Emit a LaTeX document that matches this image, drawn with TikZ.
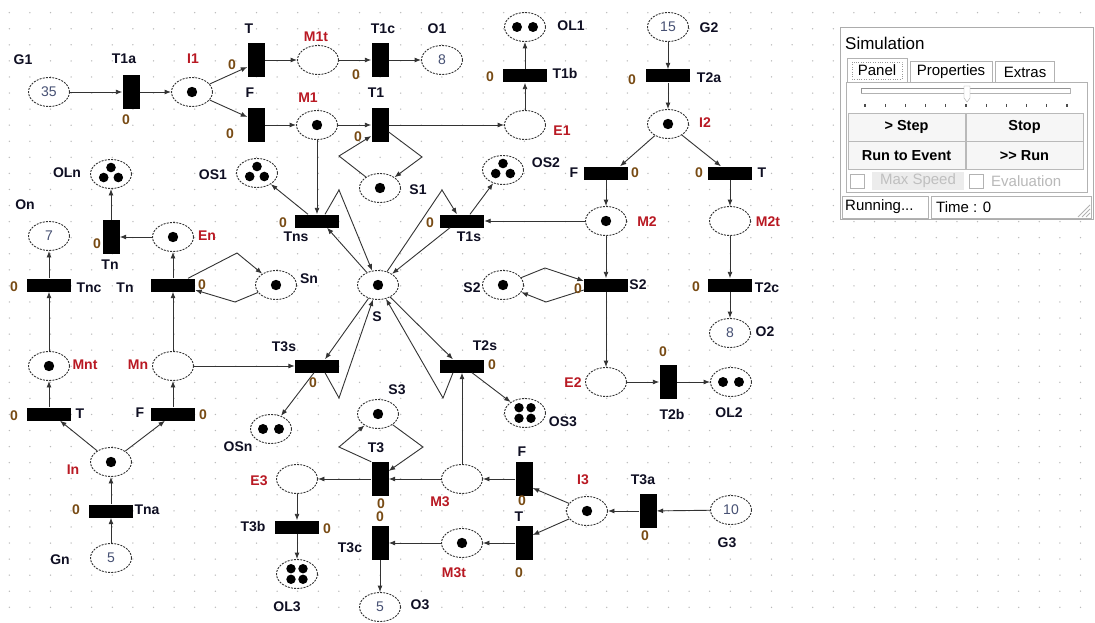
\documentclass[tikz,border=0pt]{standalone}
\usepackage{fontspec}
\setmainfont{Liberation Sans}
\usetikzlibrary{shapes.geometric,arrows.meta,calc}
\definecolor{zerocol}{RGB}{120,75,20}
\definecolor{plred}{RGB}{185,25,35}
\definecolor{numcol}{RGB}{70,80,115}
\definecolor{lblcol}{RGB}{15,15,35}
\tikzset{
  place/.style={ellipse, draw=black!80, dash pattern=on 2pt off 1.2pt, line width=0.9pt,
    minimum width=41pt, minimum height=29pt, inner sep=0pt, fill=white,
    font=\fontsize{14pt}{14pt}\selectfont, text=numcol},
  vtr/.style={rectangle, fill=black, inner sep=0pt, minimum width=17pt, minimum height=34pt},
  htr/.style={rectangle, fill=black, inner sep=0pt, minimum width=44pt, minimum height=13pt},
  lbl/.style={font=\bfseries\fontsize{14pt}{14pt}\selectfont, inner sep=0pt, text=lblcol},
  arc/.style={line width=0.9pt, draw=black!80, -{Latex[length=6.5pt,width=5pt]}},
  pf/.style={font=\fontsize{15pt}{15pt}\selectfont},
  btn/.style={draw=gray!55, fill=gray!7, minimum width=117pt, minimum height=28pt, inner sep=0pt,
    font=\bfseries\fontsize{14.5pt}{15pt}\selectfont},
  tabst/.style={draw=gray!60, fill=white, inner sep=0pt, font=\fontsize{15pt}{15pt}\selectfont}
}
\newcommand{\Lk}[3]{\node[lbl] (#1) at (#2) {#3};}
\newcommand{\Lr}[3]{\node[lbl,text=plred] (#1) at (#2) {#3};}
\newcommand{\Lz}[2]{\node[lbl,text=zerocol] (#1) at (#2) {0};}
\newcommand{\tkA}[1]{\fill (#1.center) circle[radius=5.2pt];}
\newcommand{\tkB}[1]{\fill ([xshift=-8pt]#1.center) circle[radius=5pt];\fill ([xshift=8pt]#1.center) circle[radius=5pt];}
\newcommand{\tkC}[1]{\fill ([yshift=6.5pt]#1.center) circle[radius=4.8pt];\fill ([xshift=-7.3pt,yshift=-3.5pt]#1.center) circle[radius=4.8pt];\fill ([xshift=7.3pt,yshift=-3.5pt]#1.center) circle[radius=4.8pt];}
\newcommand{\tkD}[1]{\fill ([xshift=-6pt,yshift=5.3pt]#1.center) circle[radius=4.7pt];\fill ([xshift=6pt,yshift=5.3pt]#1.center) circle[radius=4.7pt];\fill ([xshift=-6pt,yshift=-5.3pt]#1.center) circle[radius=4.7pt];\fill ([xshift=6pt,yshift=-5.3pt]#1.center) circle[radius=4.7pt];}
\begin{document}
\begin{tikzpicture}[x=1pt,y=-1pt]
\useasboundingbox (0,0) rectangle (1095,623);
\fill[white] (0,0) rectangle (1095,623);
\foreach \i in {0,...,52}{\foreach \j in {0,...,37}{\fill[gray!55] (9.3+20.6*\i,12.7+16.07*\j) circle[radius=0.75pt];}}

% ---------------- places
\node[place] (G1) at (49,92) {35};
\node[place] (I1) at (192,92) {};
\node[place] (M1t) at (318,60) {};
\node[place] (O1) at (442,60) {8};
\node[place] (M1) at (317,125) {};
\node[place] (E1) at (525,125) {};
\node[place] (OL1) at (525,27) {};
\node[place] (S1) at (380,188) {};
\node[place] (OS1) at (257,173) {};
\node[place] (OS2) at (503,170) {};
\node[place] (OLn) at (111,174) {};
\node[place] (G2) at (668,27) {15};
\node[place] (I2) at (668,124) {};
\node[place] (M2) at (606,221) {};
\node[place] (M2t) at (730,221) {};
\node[place] (S2) at (503,285) {};
\node[place] (E2) at (606,382) {};
\node[place] (O2) at (730,333) {8};
\node[place] (OL2) at (731,382) {};
\node[place] (S) at (378,285) {};
\node[place] (P7) at (49,236) {7};
\node[place] (En) at (173,237) {};
\node[place] (Sn) at (276,285) {};
\node[place] (Mnt) at (49,366) {};
\node[place] (Mn) at (173,366) {};
\node[place] (In) at (111,462) {};
\node[place] (Gn) at (111,558) {5};
\node[place] (OSn) at (271,429) {};
\node[place] (OS3) at (525,413) {};
\node[place] (S3) at (378,414) {};
\node[place] (E3) at (297,479) {};
\node[place] (M3) at (462,479) {};
\node[place] (M3t) at (462,543) {};
\node[place] (OL3) at (297,574) {};
\node[place] (O3) at (380,607) {5};
\node[place] (I3) at (587,511) {};
\node[place] (G3) at (731,510) {10};

% tokens
\tkA{I1}\tkA{M1}\tkA{S1}\tkA{I2}\tkA{M2}\tkA{S2}\tkA{S}\tkA{En}\tkA{Sn}\tkA{Mnt}\tkA{In}\tkA{S3}\tkA{M3t}\tkA{I3}
\tkB{OL1}\tkB{OL2}\tkB{OSn}
\tkC{OS1}\tkC{OS2}\tkC{OLn}
\tkD{OS3}\tkD{OL3}

% ---------------- transitions
\node[vtr] (T1a) at (131,92) {};
\node[vtr] (Tt1) at (256,60) {};
\node[vtr] (Tf1) at (256,125) {};
\node[vtr] (T1c) at (380,60) {};
\node[vtr] (T1) at (380,125) {};
\node[htr] (T1b) at (525,76) {};
\node[htr] (T2a) at (668,76) {};
\node[htr] (Tf2) at (606,173) {};
\node[htr] (Tt2) at (730,173) {};
\node[htr] (TS2) at (606,285) {};
\node[htr] (T2c) at (730,285) {};
\node[vtr] (T2b) at (668,382) {};
\node[htr] (T1s) at (462,221) {};
\node[htr] (Tns) at (317,221) {};
\node[htr] (T3s) at (317,366) {};
\node[htr] (T2s) at (462,366) {};
\node[vtr] (Tn) at (111,237) {};
\node[htr] (Tnc) at (49,285) {};
\node[htr] (Tnh) at (173,285) {};
\node[htr] (Tt3) at (49,414) {};
\node[htr] (Tf3) at (173,414) {};
\node[htr] (Tna) at (111,511) {};
\node[vtr] (T3) at (380,479) {};
\node[vtr] (T3c) at (380,543) {};
\node[htr] (T3b) at (297,527) {};
\node[vtr] (Tf4) at (524,479) {};
\node[vtr] (Tt4) at (524,543) {};
\node[vtr] (T3a) at (648,511) {};

% ---------------- arcs
\draw[arc] (G1) -- (T1a);
\draw[arc] (T1a) -- (I1);
\draw[arc] (I1) -- ([yshift=-7pt]Tt1.west);
\draw[arc] (I1) -- ([yshift=8pt]Tf1.west);
\draw[arc] (Tt1) -- (M1t);
\draw[arc] (M1t) -- (T1c);
\draw[arc] (T1c) -- (O1);
\draw[arc] (Tf1) -- (M1);
\draw[arc] (M1) -- (T1);
\draw[arc] (T1) -- (E1);
\draw[arc] (E1) -- (T1b);
\draw[arc] (T1b) -- (OL1);
\draw[arc] (S1) -- (339,156) -- ([yshift=-11pt]T1.west);
\draw[arc] ([yshift=-7pt]T1.east) -- (422,157) -- (S1);
\draw[arc] (M1) -- (Tns);
\draw[arc] ([xshift=-9pt]Tns.north) -- (OS1);
\draw[arc] ([xshift=8pt]Tns.north) -- (339,190) -- (S);
\draw[arc] (S) -- ([xshift=10pt]Tns.south);
\draw[arc] (S) -- (442,190) -- ([xshift=-5pt]T1s.north);
\draw[arc] ([xshift=-12pt]T1s.south) -- (S);
\draw[arc] ([xshift=8pt]T1s.north) -- (OS2);
\draw[arc] (M2) -- (T1s);
\draw[arc] (S) -- ([xshift=8pt]T3s.north);
\draw[arc] ([xshift=8pt]T3s.south) -- (339,398) -- (S);
\draw[arc] ([xshift=-3pt]T3s.south) -- (OSn);
\draw[arc] (S) -- ([xshift=-9pt]T2s.north);
\draw[arc] ([xshift=-9pt]T2s.south) -- (443,398) -- (S);
\draw[arc] ([xshift=10pt]T2s.south) -- (OS3);
\draw[arc] (M3) -- (T2s);
\draw[arc] (Mn) -- (T3s);
\draw[arc] (G2) -- (T2a);
\draw[arc] (T2a) -- (I2);
\draw[arc] (I2) -- ([xshift=14pt]Tf2.north);
\draw[arc] (I2) -- ([xshift=-9pt]Tt2.north);
\draw[arc] (Tf2) -- (M2);
\draw[arc] (Tt2) -- (M2t);
\draw[arc] (M2) -- (TS2);
\draw[arc] (TS2) -- (E2);
\draw[arc] (M2t) -- (T2c);
\draw[arc] (T2c) -- (O2);
\draw[arc] (E2) -- (T2b);
\draw[arc] (T2b) -- (OL2);
\draw[arc] (S2) -- (545,268) -- ([yshift=4pt]TS2.west);
\draw[arc] ([yshift=-5pt]TS2.west) -- (546,302) -- (S2);
\draw[arc] (Tn) -- (OLn);
\draw[arc] (En) -- (Tn);
\draw[arc] (Tnc) -- (P7);
\draw[arc] (Mnt) -- (Tnc);
\draw[arc] (Tnh) -- (En);
\draw[arc] (Mn) -- (Tnh);
\draw[arc] ([xshift=15pt]Tnh.north) -- (237,253) -- (Sn);
\draw[arc] (Sn) -- (235,302) -- ([yshift=-5pt]Tnh.east);
\draw[arc] (Tt3) -- (Mnt);
\draw[arc] (Tf3) -- (Mn);
\draw[arc] (In) -- ([xshift=11pt]Tt3.south);
\draw[arc] (In) -- ([xshift=-8pt]Tf3.south);
\draw[arc] (Tna) -- (In);
\draw[arc] (Gn) -- (Tna);
\draw[arc] (T3.north west) -- (339,447) -- (S3);
\draw[arc] (S3) -- (423,447) -- ([yshift=8pt]T3.east);
\draw[arc] (T3) -- (E3);
\draw[arc] (M3) -- (T3);
\draw[arc] (Tf4) -- (M3);
\draw[arc] (Tt4) -- (M3t);
\draw[arc] (M3t) -- (T3c);
\draw[arc] (T3c) -- (O3);
\draw[arc] (E3) -- (T3b);
\draw[arc] (T3b) -- (OL3);
\draw[arc] (I3) -- ([yshift=-9pt]Tf4.east);
\draw[arc] (I3) -- ([yshift=8pt]Tt4.east);
\draw[arc] (T3a) -- (I3);
\draw[arc] (G3) -- (T3a);

% ---------------- labels
\Lk{lG1}{23,60}{G1}
\Lk{lT1a}{124,59}{T1a}
\Lk{lTt1}{249,29}{T}
\Lk{lTf1}{250,93}{F}
\Lk{lT1c}{383,29}{T1c}
\Lk{lO1}{437,29}{O1}
\Lk{lT1}{376,93}{T1}
\Lk{lT1b}{565,73}{T1b}
\Lk{lOL1}{571,26}{OL1}
\Lk{lS1}{418,190}{S1}
\Lk{lOS1}{213,175}{OS1}
\Lk{lOS2}{546,163}{OS2}
\Lk{lOLn}{67,173}{OLn}
\Lk{lOn}{25,205}{On}
\Lk{lTns}{296,237}{Tns}
\Lk{lT1s}{469,237}{T1s}
\Lk{lG2}{709,28}{G2}
\Lk{lT2a}{709,78}{T2a}
\Lk{lTf2}{574,173}{F}
\Lk{lTt2}{762,173}{T}
\Lk{lS2}{472,288}{S2}
\Lk{lTS2}{638,285}{S2}
\Lk{lT2c}{767,288}{T2c}
\Lk{lO2}{765,332}{O2}
\Lk{lT2b}{672,414}{T2b}
\Lk{lOL2}{729,413}{OL2}
\Lk{lS}{377,317}{S}
\Lk{lSn}{309,279}{Sn}
\Lk{lTn}{110,265}{Tn}
\Lk{lTnc}{89,288}{Tnc}
\Lk{lTnh}{125,288}{Tn}
\Lk{lT3s}{284,347}{T3s}
\Lk{lT2s}{485,346}{T2s}
\Lk{lTt3}{80,414}{T}
\Lk{lTf3}{140,413}{F}
\Lk{lTna}{147,510}{Tna}
\Lk{lGn}{60,560}{Gn}
\Lk{lOSn}{238,447}{OSn}
\Lk{lOS3}{563,422}{OS3}
\Lk{lS3}{397,390}{S3}
\Lk{lT3}{376,448}{T3}
\Lk{lT3c}{350,548}{T3c}
\Lk{lT3b}{253,527}{T3b}
\Lk{lOL3}{287,607}{OL3}
\Lk{lO3}{420,605}{O3}
\Lk{lTf4}{522,452}{F}
\Lk{lTt4}{519,517}{T}
\Lk{lT3a}{643,480}{T3a}
\Lk{lG3}{727,543}{G3}

\Lr{lI1}{193,59}{I1}
\Lr{lM1t}{316,37}{M1t}
\Lr{lM1}{308,98}{M1}
\Lr{lE1}{562,131}{E1}
\Lr{lI2}{705,123}{I2}
\Lr{lM2}{647,222}{M2}
\Lr{lM2t}{768,222}{M2t}
\Lr{lE2}{573,383}{E2}
\Lr{lEn}{207,236}{En}
\Lr{lMnt}{85,365}{Mnt}
\Lr{lMn}{138,365}{Mn}
\Lr{lIn}{73,470}{In}
\Lr{lE3}{259,481}{E3}
\Lr{lM3}{440,502}{M3}
\Lr{lM3t}{454,573}{M3t}
\Lr{lI3}{583,480}{I3}

\Lz{z1}{126,120}
\Lz{z2}{232,65}
\Lz{z3}{230,134}
\Lz{z4}{356,75}
\Lz{z5}{358,137}
\Lz{z6}{490,77}
\Lz{z7}{632,80}
\Lz{z8}{635,173}
\Lz{z9}{699,173}
\Lz{z10}{578,289}
\Lz{z11}{696,287}
\Lz{z12}{663,352}
\Lz{z13}{430,223}
\Lz{z14}{283,223}
\Lz{z15}{313,383}
\Lz{z16}{492,365}
\Lz{z17}{97,244}
\Lz{z18}{14,287}
\Lz{z19}{202,285}
\Lz{z20}{14,416}
\Lz{z21}{203,415}
\Lz{z22}{76,510}
\Lz{z23}{381,504}
\Lz{z24}{380,517}
\Lz{z25}{327,529}
\Lz{z26}{522,501}
\Lz{z27}{519,573}
\Lz{z28}{645,536}

% ---------------- simulation panel
\node[draw=gray!65, fill=white, line width=0.8pt, minimum width=253pt, minimum height=192pt, inner sep=0pt, anchor=north west] (win) at (840,27) {};
\node[font=\fontsize{17pt}{17pt}\selectfont, anchor=west, inner sep=0pt] (title) at (845,43) {Simulation};
\node[draw=gray!60, minimum width=241pt, minimum height=110pt, inner sep=0pt, anchor=north west] (page) at (846,82) {};
\node[tabst, minimum width=60pt, minimum height=24pt] (tabP) at (877,70) {Panel};
\node[tabst, minimum width=82pt, minimum height=21pt] (tabR) at (951,72) {Properties};
\node[tabst, minimum width=59pt, minimum height=21pt] (tabE) at (1025,72) {Extras};
\draw[dotted, gray!80] (852,62) rectangle (902,79);
\draw[gray!60, fill=white] (861,88) rectangle (1070,93);
\draw[gray!85] (861,93) -- (861,88) -- (1070,88);
\filldraw[fill=white, draw=gray!70] (964,86) -- (970,86) -- (970,98) -- (967,102) -- (964,98) -- cycle;
\foreach \k in {0,...,10}{\draw[line width=1.2pt, black!70] (865+20.2*\k,104) -- (865+20.2*\k,107.5);}
\node[btn] (bStep) at (906.5,127) {{>} Step};
\node[btn] (bStop) at (1024.5,127) {Stop};
\node[btn] (bEvent) at (906.5,155.5) {Run to Event};
\node[btn] (bRun) at (1024.5,155.5) {{>}{>} Run};
\node[draw=gray!60, fill=white, minimum size=14pt, inner sep=0pt] (cb1) at (857,181) {};
\node[fill=gray!15, text=gray!50, minimum width=92pt, minimum height=18pt, inner sep=0pt, pf] (cbt1) at (918,181) {Max Speed};
\node[draw=gray!60, fill=white, minimum size=14pt, inner sep=0pt] (cb2) at (976,181) {};
\node[text=gray!55, anchor=west, inner sep=0pt, pf] (cbt2) at (991,181) {Evaluation};
\node[draw=gray!60, minimum width=86pt, minimum height=22pt, inner sep=0pt, anchor=north west] (st1) at (842,196) {};
\node[anchor=west, inner sep=0pt, pf] (st1t) at (845,207) {Running...};
\node[draw=gray!60, minimum width=160pt, minimum height=22pt, inner sep=0pt, anchor=north west] (st2) at (931,196) {};
\node[anchor=west, inner sep=0pt, pf] (st2t) at (936,207) {Time : 0};
\foreach \d in {0,4,8}{\draw[gray!60, line width=0.8pt] (1078+\d,217) -- (1090,205+\d);}
\end{tikzpicture}
\end{document}
